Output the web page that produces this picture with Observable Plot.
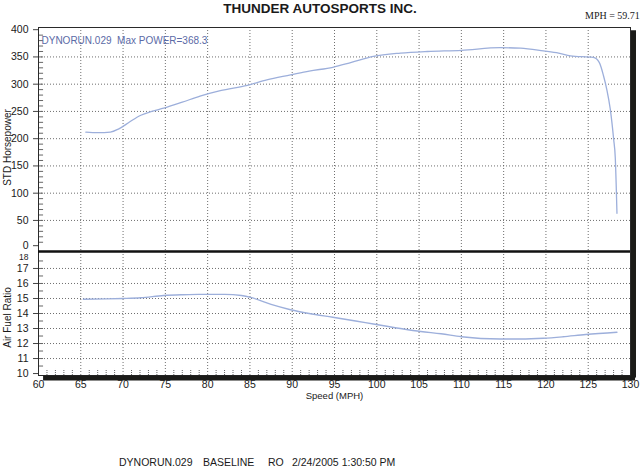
<!DOCTYPE html>
<html><head><meta charset="utf-8">
<script src="https://cdn.jsdelivr.net/npm/d3@7"></script>
<script src="https://cdn.jsdelivr.net/npm/@observablehq/plot@0.6"></script>
<style>
body{margin:0;background:#fff;}
#wrap{position:relative;width:640px;height:472px;overflow:hidden;background:#fff;font-family:"Liberation Sans",Arial,sans-serif;color:#1a1a1a;}
#title{position:absolute;left:0;width:640px;top:1px;text-align:center;font-weight:bold;font-size:13.5px;line-height:16px;}
#mph{position:absolute;left:585px;top:10px;font-family:"Liberation Serif","Times New Roman",serif;font-size:10px;}
.foot{position:absolute;top:455px;font-size:10.5px;line-height:14px;}
#topPanel,#botPanel{position:absolute;left:0;}
#topPanel{top:0;} #botPanel{top:240px;}
svg text{white-space:pre;}
</style></head>
<body>
<div id="wrap">
  <div id="title">THUNDER AUTOSPORTS INC.</div>
  <div id="mph">MPH = 59.71</div>
  <div id="topPanel"></div>
  <div id="botPanel"></div>
  <span class="foot" style="left:119px">DYNORUN.029</span>
  <span class="foot" style="left:203px">BASELINE</span>
  <span class="foot" style="left:268px">RO</span>
  <span class="foot" style="left:292px">2/24/2005 1:30:50 PM</span>
</div>
<script>
// ---- data ----
const xTicks = [60, 65, 70, 75, 80, 85, 90, 95, 100, 105, 110, 115, 120, 125, 130];
const hpTicks = [0, 50, 100, 150, 200, 250, 300, 350, 400];
const afrTicks = [10, 11, 12, 13, 14, 15, 16, 17, 18];

const hpSpeed = [65.6, 67, 68.5, 69.5, 70.8, 72.1, 73.4, 74.8, 77, 79.1, 81.5, 84.7, 87, 89.8, 92, 94.8, 97, 99.6, 102.8, 106, 110, 114.6, 117, 119.7, 121.5, 122.9, 125.6, 126.3, 126.8, 127.2, 127.6, 128, 128.2, 128.4];
const hpValue = [212, 211, 212, 218, 231, 243, 250, 256, 267, 278, 288, 298, 308, 317, 324, 331, 340, 351, 357, 360, 362, 367, 366, 361, 357, 352, 349, 340, 316, 290, 255, 200, 165, 63];

const afrSpeed = [65.3, 68, 70, 72.1, 74.8, 77, 79.1, 82, 84, 85.2, 87.5, 89.8, 92, 94.8, 97.5, 99.6, 102.8, 105.2, 107.6, 110, 114.6, 117, 119.7, 122, 124.7, 128.4];
const afrValue = [14.95, 14.97, 15.0, 15.05, 15.2, 15.25, 15.27, 15.28, 15.2, 15.05, 14.6, 14.25, 14.0, 13.75, 13.5, 13.3, 13.0, 12.8, 12.65, 12.45, 12.3, 12.3, 12.35, 12.45, 12.6, 12.75];

const runLabel = "DYNORUN.029  Max POWER=368.3";

// ---- derived tables ----
const hpData = hpSpeed.map((s, i) => ({speed: s, hp: hpValue[i]}));
const afrData = afrSpeed.map((s, i) => ({speed: s, afr: afrValue[i]}));
const xGrid = xTicks.filter(v => v > 60 && v < 130);
const minorX = d3.range(61, 130).filter(v => v % 5 !== 0);

const curveColor = "#9dafdb";
const gridStyle = {stroke: "#555", strokeOpacity: 0.85, strokeDasharray: "1,2"};
const ink = "#1b1b18";
const plotStyle = {background: "transparent", fontFamily: "'Liberation Sans', Arial, sans-serif", fontSize: "10.5px", color: "#1a1a1a", overflow: "visible"};

const hpDom = [-7, 404];
const afrDom = [9.87, 18.13];

const topPlot = Plot.plot({
  width: 640, height: 252,
  marginTop: 27, marginBottom: 1, marginLeft: 38, marginRight: 10,
  style: plotStyle,
  x: {domain: [60, 130], axis: null},
  y: {domain: hpDom},
  marks: [
    Plot.ruleY(hpTicks.filter(v => v > 0 && v < 400), {...gridStyle}),
    Plot.ruleX(xGrid, {...gridStyle}),
    Plot.ruleY(d3.range(10, 400, 10), {x1: 60, x2: 60.6, stroke: "#666"}),
    Plot.frame({stroke: "#2a2a2a"}),
    Plot.axisY(hpTicks.filter(v => v > 0), {tickSize: 5, tickPadding: 5, label: null, stroke: "#444"}),
    Plot.axisY([0], {tickSize: 5, tickPadding: 5, dy: -2, label: null, stroke: "#444"}),
    Plot.line(hpData, {x: "speed", y: "hp", stroke: curveColor, strokeWidth: 1.3, curve: "monotone-x"}),
    Plot.ruleX([130], {dx: 3, y1: 398, y2: hpDom[0], stroke: ink, strokeWidth: 5}),
    Plot.text([runLabel], {frameAnchor: "top-left", dx: 3, dy: 9, textAnchor: "start", fill: "#5b6aa6", fontSize: 10}),
    Plot.text(["STD Horsepower"], {frameAnchor: "left", textAnchor: "middle", dx: -31, dy: 8, rotate: -90, fontSize: 10, fill: "#1a1a1a"})
  ]
});
document.getElementById("topPanel").appendChild(topPlot);

const botPlot = Plot.plot({
  width: 640, height: 167,
  marginTop: 11, marginBottom: 32, marginLeft: 38, marginRight: 10,
  style: plotStyle,
  x: {domain: [60, 130]},
  y: {domain: afrDom},
  marks: [
    Plot.ruleY(afrTicks.filter(v => v > 10 && v < 18), {...gridStyle}),
    Plot.ruleX(xGrid, {...gridStyle}),
    Plot.ruleX(minorX, {y1: afrDom[0], y2: 10.27, stroke: "#666", strokeDasharray: "1,1"}),
    Plot.ruleY(d3.range(10.5, 18, 0.5), {x1: 60, x2: 60.6, stroke: "#666"}),
    Plot.frame({stroke: "#2a2a2a"}),
    Plot.axisY(afrTicks.filter(v => v < 18), {tickSize: 5, tickPadding: 5, label: null, stroke: "#444"}),
    Plot.axisY([18], {tickSize: 0, tickPadding: 10, dy: 3.5, fontSize: 8.5, label: null}),
    Plot.axisX(xTicks, {tickSize: 0, tickPadding: 5, label: null}),
    Plot.line(afrData, {x: "speed", y: "afr", stroke: curveColor, strokeWidth: 1.3, curve: "monotone-x"}),
    Plot.ruleY([afrDom[1]], {stroke: "#111", strokeWidth: 2.5}),
    Plot.ruleY([afrDom[0]], {x1: 60.6, x2: 130.6, dy: 2.5, stroke: ink, strokeWidth: 5}),
    Plot.ruleX([130], {dx: 3, y1: afrDom[1], y2: 9.7, stroke: ink, strokeWidth: 5}),
    Plot.text(["Air Fuel Ratio"], {frameAnchor: "left", textAnchor: "middle", dx: -31, dy: 4, rotate: -90, fontSize: 10, fill: "#1a1a1a"}),
    Plot.text(["Speed (MPH)"], {frameAnchor: "bottom", dy: 23, fontSize: 9.5, fill: "#1a1a1a"})
  ]
});
document.getElementById("botPanel").appendChild(botPlot);
</script>
</body></html>
